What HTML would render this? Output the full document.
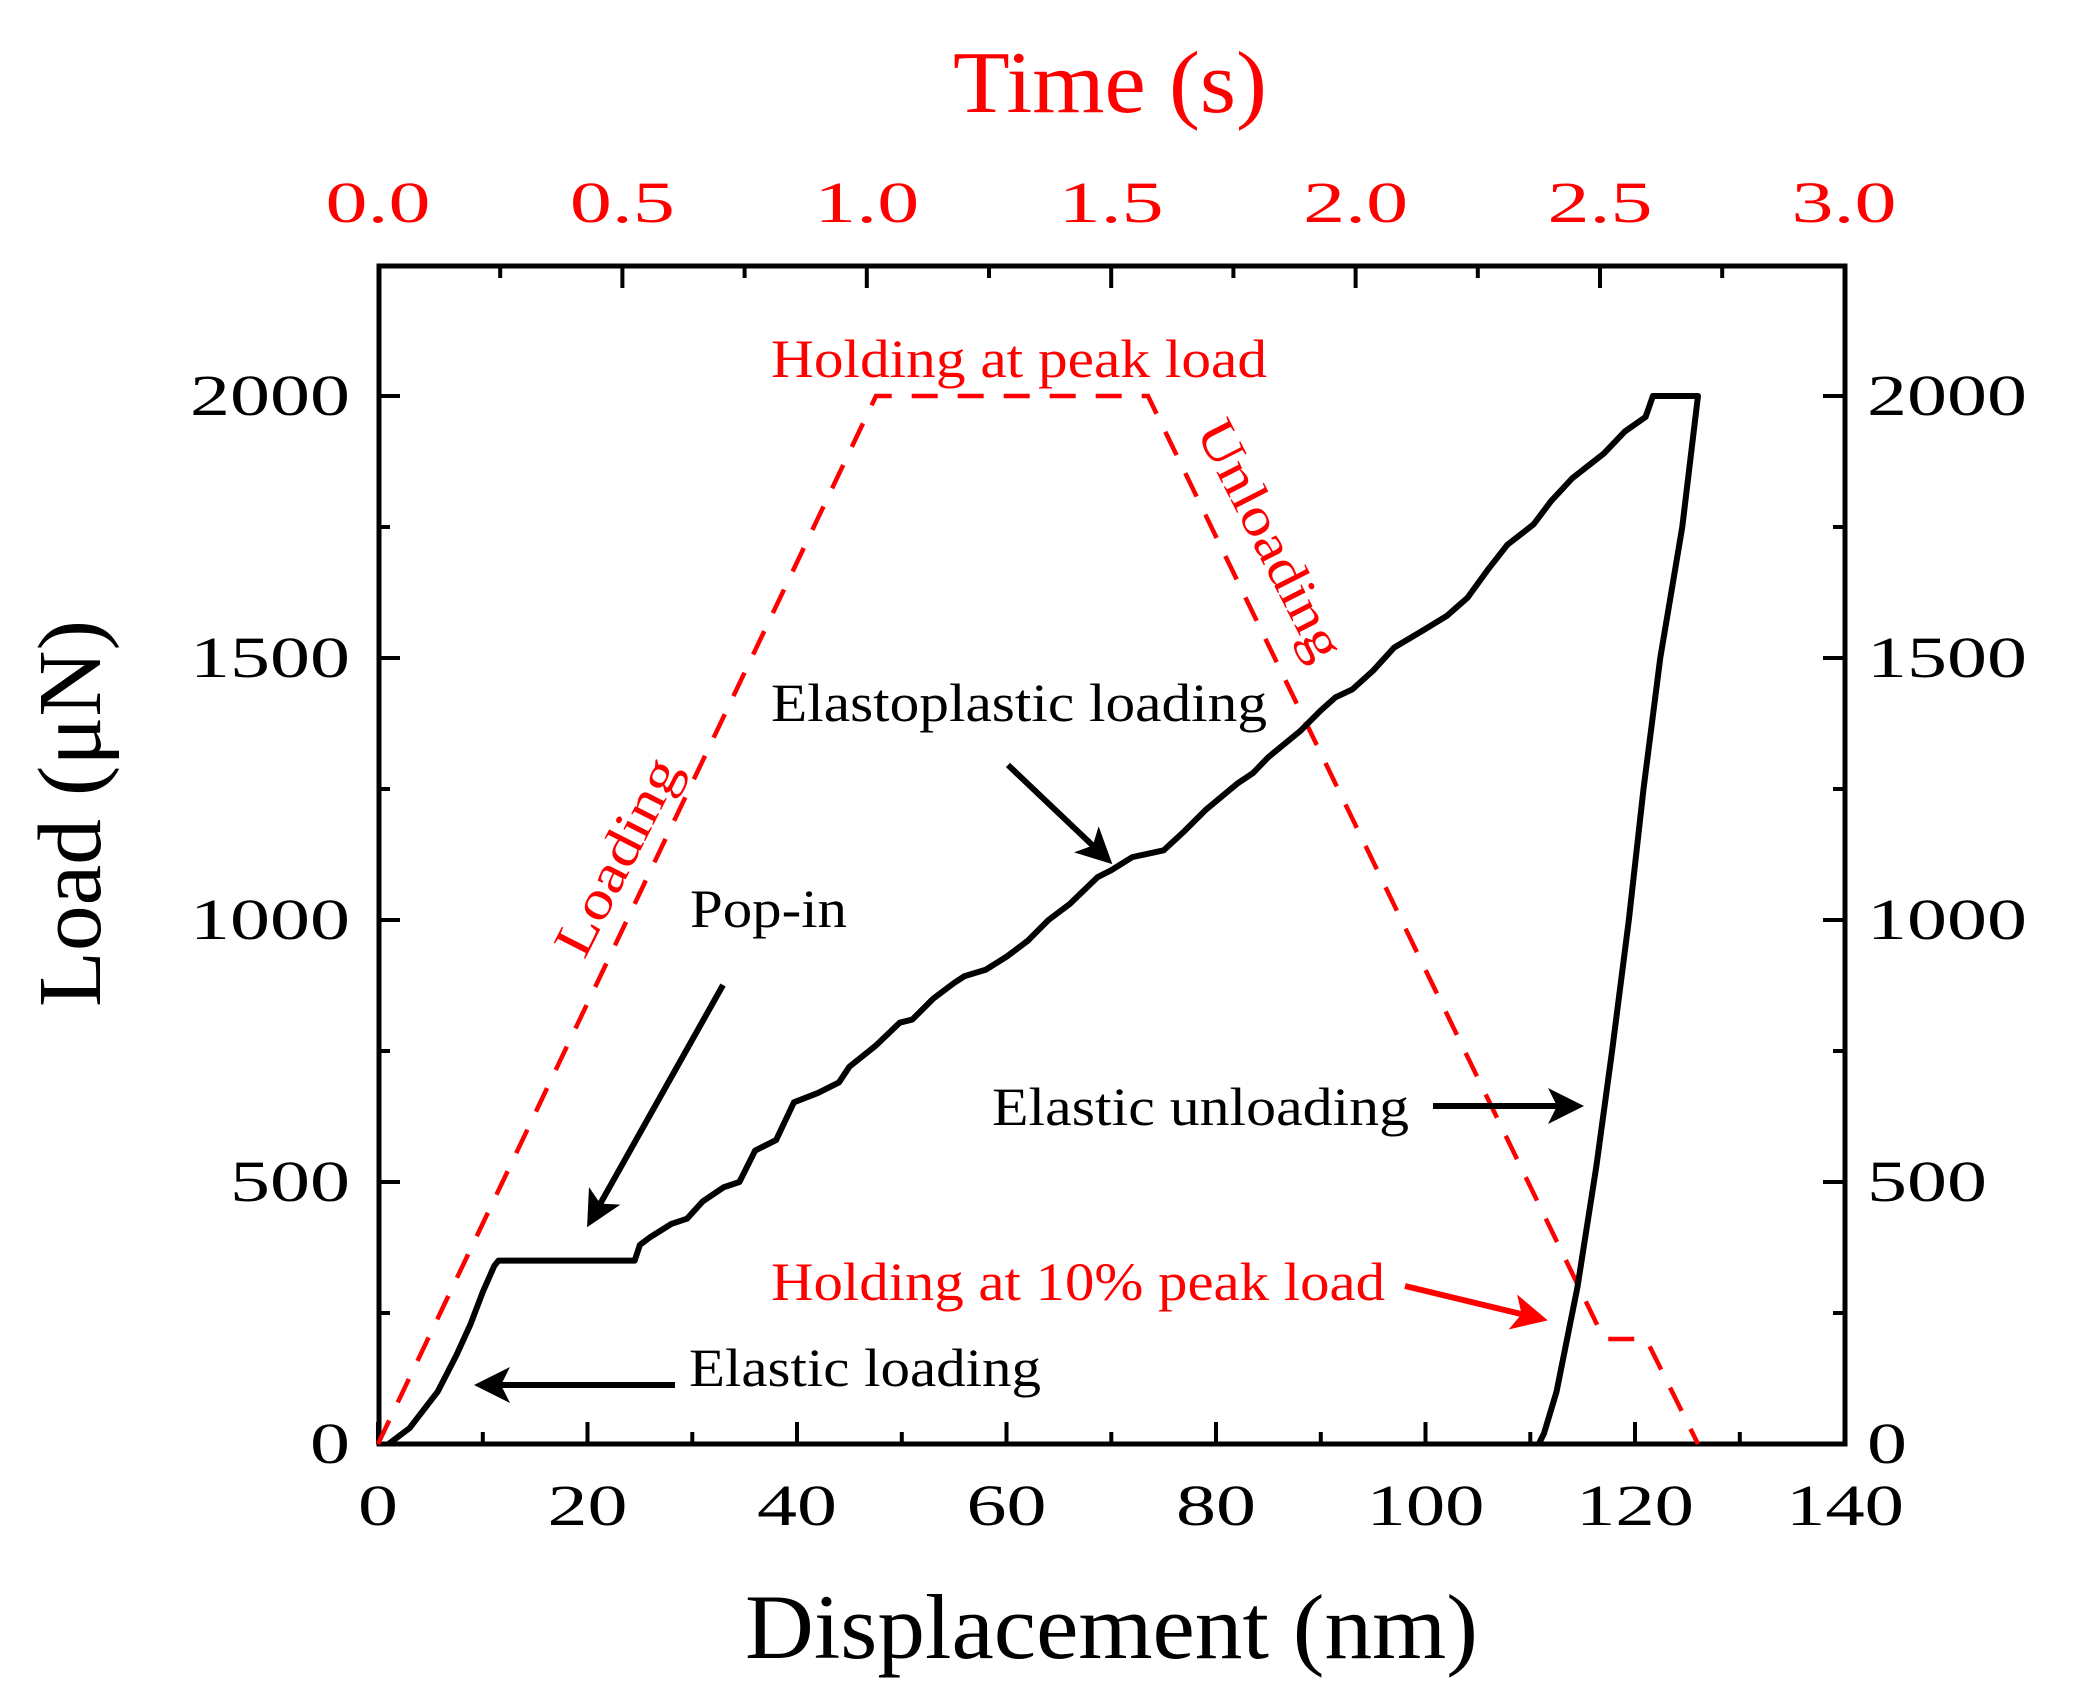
<!DOCTYPE html>
<html><head><meta charset="utf-8"><style>
html,body{margin:0;padding:0;background:#fff;}
svg{display:block;}
text{font-family:"Liberation Serif",serif;}
</style></head><body>
<svg width="2073" height="1699" viewBox="0 0 2073 1699" xmlns="http://www.w3.org/2000/svg">
<defs>
<marker id="ah" markerWidth="6" markerHeight="6" refX="5" refY="3" orient="auto" markerUnits="strokeWidth"><path d="M0,0 L6,3 L0,6 L1.5,3 Z" fill="#000"/></marker>
<marker id="ahr" markerWidth="6" markerHeight="6" refX="5" refY="3" orient="auto" markerUnits="strokeWidth"><path d="M0,0 L6,3 L0,6 L1.5,3 Z" fill="#f00"/></marker>
</defs>
<rect x="379" y="266" width="1466" height="1178" fill="none" stroke="#000" stroke-width="5"/>
<g stroke="#000" stroke-width="4">
<path d="M378,1444v-22M587.5,1444v-22M797,1444v-22M1006.5,1444v-22M1216,1444v-22M1425.5,1444v-22M1635,1444v-22M482.8,1444v-12M692.3,1444v-12M901.8,1444v-12M1111.3,1444v-12M1320.8,1444v-12M1530.3,1444v-12M1739.8,1444v-12"/>
<path d="M622.4,266v22M866.8,266v22M1111.2,266v22M1355.6,266v22M1600,266v22M500.2,266v12M744.6,266v12M989,266v12M1233.4,266v12M1477.8,266v12M1722.2,266v12"/>
<path d="M378,1182h22M378,920h22M378,658h22M378,396h22M378,1313h12M378,1051h12M378,789h12M378,527h12"/>
<path d="M1845,1182h-22M1845,920h-22M1845,658h-22M1845,396h-22M1845,1313h-12M1845,1051h-12M1845,789h-12M1845,527h-12"/>
</g>
<g font-size="58" text-anchor="middle" fill="#000">
<text x="378" y="1525" textLength="40" lengthAdjust="spacingAndGlyphs">0</text>
<text x="587.5" y="1525" textLength="80" lengthAdjust="spacingAndGlyphs">20</text>
<text x="797" y="1525" textLength="80" lengthAdjust="spacingAndGlyphs">40</text>
<text x="1006.5" y="1525" textLength="80" lengthAdjust="spacingAndGlyphs">60</text>
<text x="1216" y="1525" textLength="80" lengthAdjust="spacingAndGlyphs">80</text>
<text x="1425.5" y="1525" textLength="118" lengthAdjust="spacingAndGlyphs">100</text>
<text x="1635" y="1525" textLength="118" lengthAdjust="spacingAndGlyphs">120</text>
<text x="1845" y="1525" textLength="118" lengthAdjust="spacingAndGlyphs">140</text>
</g>
<g font-size="58" text-anchor="middle" fill="#f00">
<text x="378" y="222" textLength="105" lengthAdjust="spacingAndGlyphs">0.0</text>
<text x="622.4" y="222" textLength="105" lengthAdjust="spacingAndGlyphs">0.5</text>
<text x="866.8" y="222" textLength="105" lengthAdjust="spacingAndGlyphs">1.0</text>
<text x="1111.2" y="222" textLength="105" lengthAdjust="spacingAndGlyphs">1.5</text>
<text x="1355.6" y="222" textLength="105" lengthAdjust="spacingAndGlyphs">2.0</text>
<text x="1600" y="222" textLength="105" lengthAdjust="spacingAndGlyphs">2.5</text>
<text x="1844" y="222" textLength="105" lengthAdjust="spacingAndGlyphs">3.0</text>
</g>
<g font-size="58" text-anchor="end" fill="#000">
<text x="350" y="1463" textLength="40" lengthAdjust="spacingAndGlyphs">0</text>
<text x="350" y="1201" textLength="120" lengthAdjust="spacingAndGlyphs">500</text>
<text x="350" y="939" textLength="160" lengthAdjust="spacingAndGlyphs">1000</text>
<text x="350" y="677" textLength="160" lengthAdjust="spacingAndGlyphs">1500</text>
<text x="350" y="415" textLength="160" lengthAdjust="spacingAndGlyphs">2000</text>
</g>
<g font-size="58" text-anchor="start" fill="#000">
<text x="1867" y="1463" textLength="40" lengthAdjust="spacingAndGlyphs">0</text>
<text x="1867" y="1201" textLength="120" lengthAdjust="spacingAndGlyphs">500</text>
<text x="1867" y="939" textLength="160" lengthAdjust="spacingAndGlyphs">1000</text>
<text x="1867" y="677" textLength="160" lengthAdjust="spacingAndGlyphs">1500</text>
<text x="1867" y="415" textLength="160" lengthAdjust="spacingAndGlyphs">2000</text>
</g>
<text x="953" y="112" font-size="88" fill="#f00" textLength="314" lengthAdjust="spacingAndGlyphs">Time (s)</text>
<text x="745" y="1658" font-size="92" fill="#000" textLength="733" lengthAdjust="spacingAndGlyphs">Displacement (nm)</text>
<text transform="translate(100,1007) rotate(-90)" font-size="90" fill="#000" textLength="387" lengthAdjust="spacingAndGlyphs">Load (μN)</text>

<polyline points="378,1444 876,396 1148,396 1604,1339 1646,1339 1698,1444" fill="none" stroke="#f00" stroke-width="4.5" stroke-dasharray="26,20"/>

<g transform="translate(378,1444) scale(10.476,-0.524)">
<polyline vector-effect="non-scaling-stroke" fill="none" stroke="#000" stroke-width="6" stroke-linejoin="round"
points="1,0 3,30 5.7,100 7.5,170 8.8,227 10,290 11.1,340 11.5,350 24.5,350 25,380 26,395 28,420 29.5,430 31,463 33,490 34.5,500 36,560 38,580 39.7,652 42,670 44,690 45,720 47.5,760 49.8,804 51,810 53,850 55,880 56,893 58,905 60,930 62,960 64,1000 66,1030 68.7,1082 70,1095 72,1120 75,1133 77,1170 79,1210 82,1260 83.5,1280 85,1311 88,1360 90,1400 91.4,1425 93,1440 95,1476 97,1520 99.7,1552 102,1580 104,1615 106,1670 107.8,1716 110.3,1755 112,1800 114,1843 117,1890 119,1932 121,1960 121.7,2000 126,2000 124.5,1750 122.4,1500 120.8,1250 119.4,1000 117.8,750 116.3,530 114.5,300 112.5,100 111.3,20 110.8,0"/>
</g>

<g stroke="#000" stroke-width="6" fill="none">
<line x1="723" y1="985" x2="590" y2="1222" marker-end="url(#ah)"/>
<line x1="1008" y1="765" x2="1108" y2="860" marker-end="url(#ah)"/>
<line x1="1433" y1="1106" x2="1578" y2="1106" marker-end="url(#ah)"/>
<line x1="675" y1="1385" x2="480" y2="1385" marker-end="url(#ah)"/>
</g>
<line x1="1405" y1="1286" x2="1542" y2="1319" stroke="#f00" stroke-width="6" marker-end="url(#ahr)"/>

<g font-size="54">
<text x="771" y="377" fill="#f00" textLength="496" lengthAdjust="spacingAndGlyphs">Holding at peak load</text>
<text x="771" y="721" fill="#000" textLength="496" lengthAdjust="spacingAndGlyphs">Elastoplastic loading</text>
<text x="690" y="927" fill="#000" textLength="157" lengthAdjust="spacingAndGlyphs">Pop-in</text>
<text x="992" y="1125" fill="#000" textLength="417" lengthAdjust="spacingAndGlyphs">Elastic unloading</text>
<text x="771" y="1300" fill="#f00" textLength="614" lengthAdjust="spacingAndGlyphs">Holding at 10% peak load</text>
<text x="689" y="1386" fill="#000" textLength="352" lengthAdjust="spacingAndGlyphs">Elastic loading</text>
<text transform="translate(618,857) rotate(-63)" x="0" y="17" text-anchor="middle" fill="#f00" textLength="215" lengthAdjust="spacingAndGlyphs">Loading</text>
<text transform="translate(1270,540) rotate(63)" x="0" y="17" text-anchor="middle" fill="#f00" textLength="262" lengthAdjust="spacingAndGlyphs">Unloading</text>
</g>
</svg>
</body></html>
